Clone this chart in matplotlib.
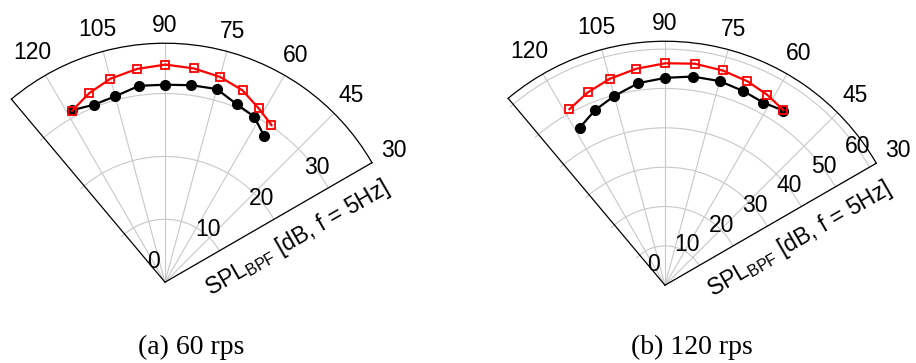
import numpy as np
import matplotlib.pyplot as plt

plt.rcParams["font.family"] = "Liberation Sans"
plt.rcParams["mathtext.fontset"] = "custom"
plt.rcParams["mathtext.rm"] = "Liberation Sans"
plt.rcParams["mathtext.it"] = "Liberation Sans"

FIG_W, FIG_H, DPI = 916, 363, 100

# measurement directions (deg)
ANGLES = [118.5, 111.8, 105.0, 97.5, 89.9, 82.4, 75.0, 68.0, 61.7, 55.9]
THETA_TICKS = [30, 45, 60, 75, 90, 105, 120]

# 60 rps
SPL_60_SOLID = [31.1, 30.4, 30.6, 31.5, 31.4, 31.6, 31.8, 30.5, 29.9, 28.1]
SPL_60_OPEN = [31.0, 32.4, 33.5, 34.2, 34.6, 34.3, 33.8, 32.9, 31.4, 30.2]
RINGS_60 = [0, 10, 20, 30]
RMAX_60 = 38

# 120 rps
SPL_120_SOLID = [45.5, 47.9, 49.8, 51.8, 52.7, 53.5, 53.7, 53.2, 52.7, 53.6]
SPL_120_OPEN = [50.9, 52.8, 54.3, 55.5, 56.4, 56.8, 56.5, 55.9, 54.9, 53.7]
RINGS_120 = [0, 10, 20, 30, 40, 50, 60]
RMAX_120 = 62

GRID_COLOR = "#c8c8c8"
FS = 16.5


def add_wedge_axes(fig, origin, radius):
    # polar axes are forced square, the 30-130 deg wedge sits centred in it
    ox, oy = origin
    x0 = ox + np.cos(np.radians(130)) * radius
    x1 = ox + np.cos(np.radians(30)) * radius
    cx = (x0 + x1) / 2
    cy = oy - radius / 2
    side = x1 - x0
    rect = [(cx - side / 2) / FIG_W, (FIG_H - cy - side / 2) / FIG_H,
            side / FIG_W, side / FIG_H]
    ax = fig.add_axes(rect, projection="polar")
    ax.set_thetamin(30)
    ax.set_thetamax(130)
    return ax, cx


def theta_label_offset(text, deg, gap=7):
    w = 0.556 * FS * len(text) / 2
    h = 0.716 * FS / 2
    t = np.radians(deg)
    d = gap + abs(np.cos(t)) * w + abs(np.sin(t)) * h
    return d * np.cos(t), d * np.sin(t)


def draw_panel(ax, solid, opened, rings, rmax, radius_px):
    ax.set_rlim(0, rmax)
    ax.set_thetagrids(THETA_TICKS)
    ax.set_rgrids(rings[1:])
    ax.tick_params(labelbottom=False, labelleft=False, length=0)
    ax.grid(color=GRID_COLOR, lw=0.8)
    for sp in ax.spines.values():
        sp.set_color("black")
        sp.set_linewidth(0.9)

    th = np.radians(ANGLES)
    ax.plot(th, solid, "-o", color="black", lw=1.6, ms=7, zorder=3,
            clip_on=False)
    ax.plot(th, opened, "-s", color="red", lw=1.6, ms=5.5, mew=1.3,
            mfc="none", zorder=4, clip_on=False)

    # short ring stubs outside the 130 deg edge
    for r in rings[1:]:
        r_px = r / rmax * radius_px
        dt = 4.0 / r_px
        ax.plot([np.radians(130), np.radians(130) + dt], [r, r],
                color=GRID_COLOR, lw=0.8, clip_on=False)

    for deg in THETA_TICKS:
        lab = str(deg)
        ax.annotate(lab, xy=(np.radians(deg), rmax),
                    xytext=theta_label_offset(lab, deg),
                    textcoords="offset points", ha="center", va="center",
                    fontsize=FS, annotation_clip=False)

    # radial labels sit just above the 30 deg edge
    for r in rings:
        ax.annotate(str(r), xy=(np.radians(30), r), xytext=(-8.6, 15.0),
                    textcoords="offset points", ha="center", va="center",
                    fontsize=FS, annotation_clip=False)

    ax.annotate(r"SPL$_{\mathrm{BPF}}$ [dB, f = 5Hz]",
                xy=(np.radians(30), 0.575 * rmax), xytext=(9.7, -17.5),
                textcoords="offset points", ha="center", va="center",
                rotation=30, fontsize=FS, annotation_clip=False)


fig = plt.figure(figsize=(FIG_W / DPI, FIG_H / DPI), dpi=DPI)

ax1, c1 = add_wedge_axes(fig, (165, 281), 239)
draw_panel(ax1, SPL_60_SOLID, SPL_60_OPEN, RINGS_60, RMAX_60, 239)

ax2, c2 = add_wedge_axes(fig, (665, 284), 244)
draw_panel(ax2, SPL_120_SOLID, SPL_120_OPEN, RINGS_120, RMAX_120, 244)

for cx, txt in [(c1, "(a) 60 rps"), (c2, "(b) 120 rps")]:
    fig.text(cx / FIG_W, 9 / FIG_H, txt, ha="center", va="baseline",
             fontsize=20, family="Liberation Serif")

fig.savefig("out.png", dpi=DPI)
